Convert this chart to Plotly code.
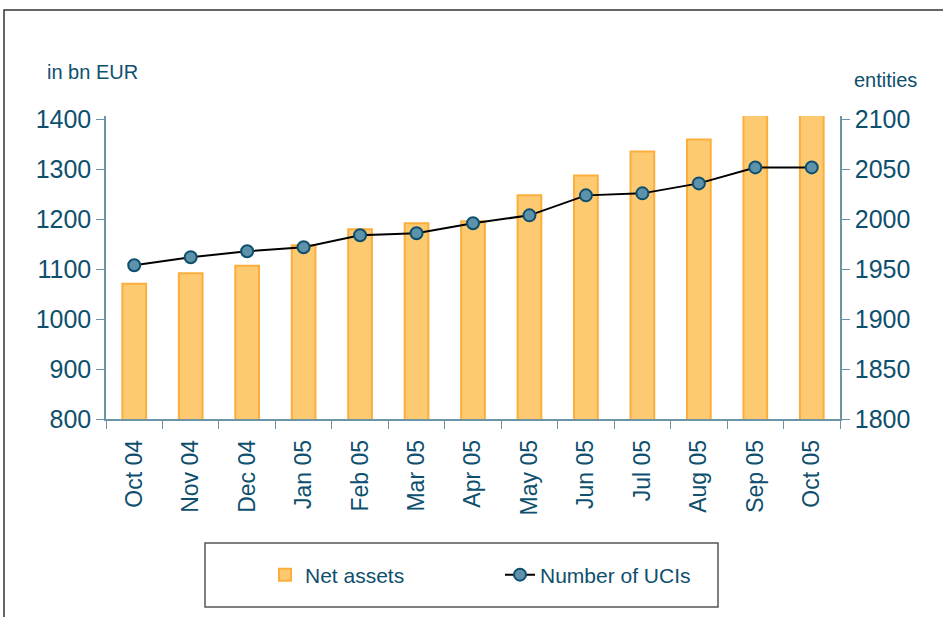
import plotly.graph_objects as go

months = ["Oct 04", "Nov 04", "Dec 04", "Jan 05", "Feb 05", "Mar 05", "Apr 05",
          "May 05", "Jun 05", "Jul 05", "Aug 05", "Sep 05", "Oct 05"]
net_assets = [1071, 1092, 1107, 1148, 1180, 1192, 1196, 1248, 1288, 1336, 1360, 1425, 1440]
num_ucis = [1954, 1962, 1968, 1972, 1984, 1986, 1996, 2004, 2024, 2026, 2036, 2052, 2052]

W, H = 943, 617
ML, MR, MT, MB = 106, 103, 116, 198
PW, PH = W - ML - MR, H - MT - MB

def px(x):
    return (x - ML) / PW

def py(y):
    return (H - MB - y) / PH

TXT = "#0e4f6e"
AX = "#6d93a6"
FONT = "Liberation Sans, Arial, sans-serif"

fig = go.Figure()
fig.add_trace(go.Bar(
    x=months, y=net_assets, name="Net assets", width=0.42,
    marker=dict(color="#fdca72", line=dict(color="#fbae3c", width=2)),
    yaxis="y",
))
fig.add_trace(go.Scatter(
    x=months, y=num_ucis, name="Number of UCIs", mode="lines+markers",
    line=dict(color="black", width=2),
    marker=dict(size=12, color="#5e92ab", line=dict(color="#0e4f6e", width=2)),
    yaxis="y2",
))

fig.update_layout(
    width=W, height=H,
    margin=dict(l=ML, r=MR, t=MT, b=MB),
    paper_bgcolor="white", plot_bgcolor="white",
    font=dict(family=FONT, color=TXT, size=21),
    showlegend=True,
    legend=dict(
        orientation="h", x=px(265), y=py(575), xanchor="left", yanchor="middle",
        borderwidth=0, bgcolor="rgba(0,0,0,0)",
        font=dict(size=21, color=TXT), entrywidth=190, entrywidthmode="pixels",
    ),
    xaxis=dict(
        type="category", range=[-0.5, 12.5], showgrid=False,
        showline=True, linecolor=AX, linewidth=1.5,
        ticks="outside", tickson="boundaries", ticklen=8, tickcolor=AX,
        tickangle=-90, tickfont=dict(size=23, color=TXT), ticklabelstandoff=10,
    ),
    yaxis=dict(
        range=[800, 1407], tickvals=[800, 900, 1000, 1100, 1200, 1300, 1400],
        showgrid=False, zeroline=False,
        showline=True, linecolor=AX, linewidth=1.5,
        ticks="outside", ticklen=8, tickcolor=AX,
        tickfont=dict(size=25, color=TXT),
    ),
    yaxis2=dict(
        range=[1800, 2103.5], tickvals=[1800, 1850, 1900, 1950, 2000, 2050, 2100],
        overlaying="y", side="right", showgrid=False, zeroline=False,
        showline=True, linecolor=AX, linewidth=1.5,
        ticks="outside", ticklen=8, tickcolor=AX,
        tickfont=dict(size=25, color=TXT),
    ),
    annotations=[
        dict(text="in bn EUR", xref="paper", yref="paper", x=px(45), y=py(72),
             xanchor="left", yanchor="middle", showarrow=False,
             font=dict(size=20, color=TXT)),
        dict(text="entities", xref="paper", yref="paper", x=px(852), y=py(80),
             xanchor="left", yanchor="middle", showarrow=False,
             font=dict(size=20, color=TXT)),
    ],
    shapes=[
        dict(type="rect", xref="paper", yref="paper",
             x0=px(4), x1=px(960), y0=py(640), y1=py(10),
             line=dict(color="#333333", width=1.5), fillcolor="rgba(0,0,0,0)",
             layer="below"),
        dict(type="rect", xref="paper", yref="paper",
             x0=px(205), x1=px(718), y0=py(607), y1=py(543),
             line=dict(color="#555555", width=1.5), fillcolor="rgba(0,0,0,0)",
             layer="below"),
    ],
)

fig.write_html("out.html")
